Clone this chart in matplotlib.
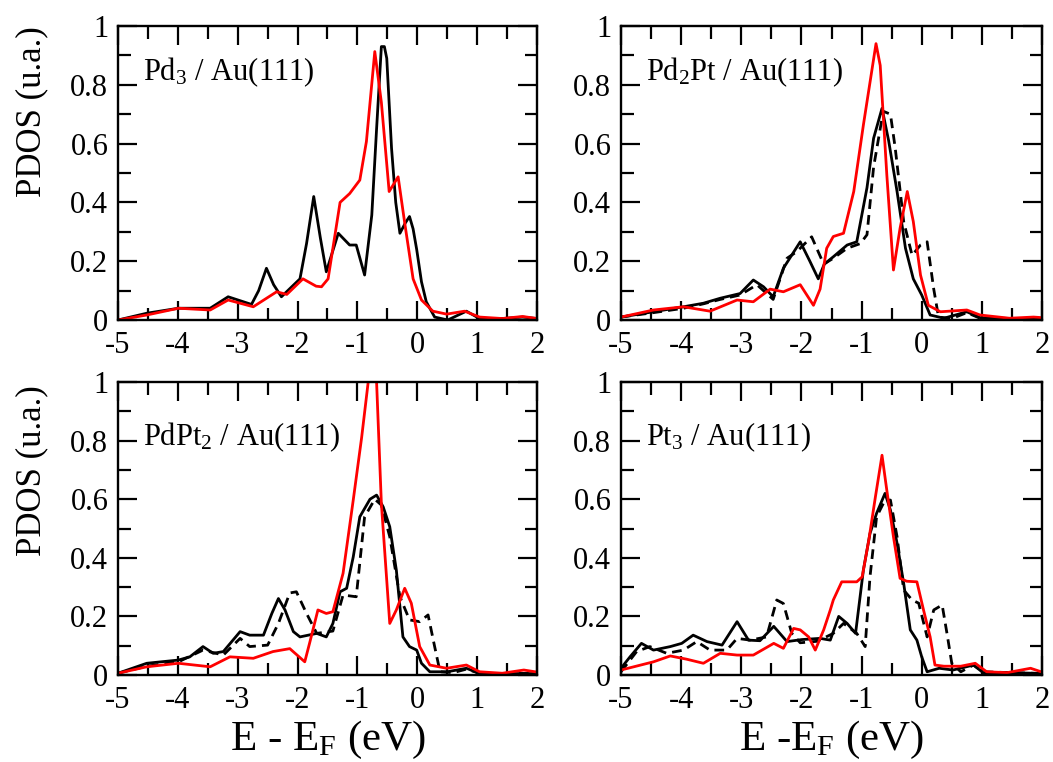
import numpy as np
import matplotlib
matplotlib.use("Agg")
import matplotlib.pyplot as plt
from matplotlib.ticker import MultipleLocator, FuncFormatter

plt.rcParams['font.family'] = ['Liberation Serif', 'DejaVu Serif']
plt.rcParams['mathtext.fontset'] = 'custom'
plt.rcParams['mathtext.rm'] = 'Liberation Serif'
plt.rcParams['mathtext.it'] = 'Liberation Serif:italic'
plt.rcParams['mathtext.default'] = 'regular'
plt.rcParams['axes.unicode_minus'] = False

# ---- Pd3 / Au(111) ----
pd3_black_x = [-5.0, -4.52, -3.99, -3.46, -3.16, -2.77, -2.65, -2.52, -2.40, -2.27, -1.96, -1.85,
               -1.73, -1.62, -1.52, -1.32, -1.13, -1.02, -0.88, -0.76, -0.68, -0.60, -0.55, -0.51,
               -0.43, -0.36, -0.29, -0.20, -0.13, -0.07, -0.01, 0.07, 0.15, 0.29, 0.51, 0.82, 1.04,
               1.42, 1.76, 2.0]
pd3_black_y = [0.0, 0.023, 0.04, 0.04, 0.079, 0.053, 0.10, 0.176, 0.12, 0.079, 0.14, 0.26,
               0.42, 0.28, 0.164, 0.295, 0.255, 0.255, 0.153, 0.357, 0.65, 0.93, 0.93, 0.89,
               0.584, 0.40, 0.295, 0.33, 0.352, 0.31, 0.24, 0.13, 0.062, 0.01, 0.0, 0.03, 0.005,
               0.005, 0.01, 0.005]
pd3_red_x = [-5.0, -4.52, -3.99, -3.46, -3.16, -2.74, -2.35, -2.18, -1.91, -1.69, -1.60, -1.49,
             -1.29, -1.13, -0.96, -0.85, -0.71, -0.60, -0.47, -0.32, -0.21, -0.07, 0.07, 0.26,
             0.49, 0.79, 1.04, 1.42, 1.76, 2.0]
pd3_red_y = [0.0, 0.017, 0.04, 0.034, 0.068, 0.045, 0.096, 0.087, 0.14, 0.115, 0.113, 0.14,
             0.40, 0.43, 0.476, 0.607, 0.913, 0.74, 0.437, 0.487, 0.33, 0.14, 0.068, 0.03,
             0.02, 0.03, 0.01, 0.005, 0.012, 0.005]

# ---- Pd2Pt / Au(111) ----
pd2pt_black_x = [-5.0, -4.46, -3.96, -3.63, -3.35, -3.02, -2.80, -2.63, -2.47, -2.30, -2.02, -1.86,
                 -1.72, -1.62, -1.47, -1.24, -1.08, -0.91, -0.80, -0.66, -0.55, -0.41, -0.27, -0.14,
                 0.0, 0.14, 0.37, 0.75, 0.97, 1.5, 2.0]
pd2pt_black_y = [0.01, 0.028, 0.045, 0.057, 0.074, 0.09, 0.136, 0.113, 0.079, 0.176, 0.266, 0.2,
                 0.14, 0.19, 0.215, 0.255, 0.266, 0.45, 0.618, 0.72, 0.61, 0.437, 0.244, 0.14,
                 0.085, 0.017, 0.006, 0.028, 0.008, 0.005, 0.005]
pd2pt_dash_x = [-5.0, -4.46, -3.96, -3.63, -3.35, -3.02, -2.74, -2.47, -2.24, -2.08, -1.83, -1.63,
                -1.47, -1.24, -1.02, -0.91, -0.80, -0.64, -0.52, -0.44, -0.30, -0.16, -0.02, 0.09,
                0.20, 0.28, 0.5, 0.75, 0.97, 1.5, 2.0]
pd2pt_dash_y = [0.01, 0.025, 0.04, 0.055, 0.07, 0.085, 0.12, 0.07, 0.21, 0.232, 0.283, 0.19,
                0.21, 0.244, 0.26, 0.29, 0.52, 0.71, 0.70, 0.584, 0.335, 0.22, 0.255, 0.266,
                0.105, 0.01, 0.005, 0.025, 0.006, 0.005, 0.005]
pd2pt_red_x = [-5.0, -4.46, -3.96, -3.52, -3.07, -2.80, -2.52, -2.30, -2.02, -1.80, -1.69, -1.58,
               -1.47, -1.30, -1.13, -0.97, -0.76, -0.69, -0.58, -0.47, -0.36, -0.24, -0.14, -0.02,
               0.11, 0.31, 0.75, 0.97, 1.46, 1.86, 2.0]
pd2pt_red_y = [0.01, 0.034, 0.045, 0.03, 0.068, 0.062, 0.105, 0.096, 0.12, 0.05, 0.105, 0.244,
               0.284, 0.295, 0.437, 0.663, 0.94, 0.866, 0.493, 0.17, 0.312, 0.437, 0.335, 0.153,
               0.05, 0.028, 0.034, 0.017, 0.006, 0.01, 0.008]

# ---- PdPt2 / Au(111) ----
pdpt2_black_x = [-5.0, -4.52, -3.99, -3.80, -3.58, -3.41, -3.24, -2.96, -2.80, -2.57,
                 -2.43, -2.32, -2.21, -2.07, -1.96, -1.68, -1.52, -1.41, -1.29, -1.18,
                 -1.07, -0.96, -0.79, -0.68, -0.57, -0.46, -0.35, -0.24, -0.13, -0.01,
                 0.07, 0.21, 0.5, 0.82, 1.04, 1.5, 2.0]
pdpt2_black_y = [0.006, 0.04, 0.051, 0.062, 0.097, 0.074, 0.08, 0.148, 0.136, 0.136,
                 0.21, 0.261, 0.222, 0.148, 0.13, 0.142, 0.13, 0.176, 0.284, 0.296,
                 0.403, 0.54, 0.6, 0.614, 0.574, 0.506, 0.358, 0.13, 0.097, 0.085,
                 0.04, 0.011, 0.011, 0.023, 0.005, 0.005, 0.005]
pdpt2_dash_x = [-5.0, -4.52, -3.99, -3.58, -3.24, -2.96, -2.80, -2.50, -2.32, -2.13, -2.02, -1.85,
                -1.68, -1.41, -1.24, -1.02, -0.88, -0.71, -0.60, -0.46, -0.29, -0.13, 0.04, 0.18,
                0.29, 0.38, 0.6, 0.82, 1.04, 1.5, 2.0]
pdpt2_dash_y = [0.006, 0.03, 0.045, 0.085, 0.068, 0.125, 0.097, 0.102, 0.176, 0.28, 0.284, 0.21,
                0.142, 0.15, 0.273, 0.267, 0.54, 0.6, 0.58, 0.472, 0.267, 0.188, 0.182, 0.205,
                0.097, 0.011, 0.008, 0.02, 0.006, 0.005, 0.005]
pdpt2_red_x = [-5.0, -4.52, -3.99, -3.46, -3.13, -2.74, -2.41, -2.13, -1.88, -1.80, -1.66, -1.52,
               -1.41, -1.24, -1.07, -0.93, -0.82, -0.75, -0.68, -0.60, -0.46, -0.35, -0.21, -0.10,
               0.04, 0.21, 0.49, 0.82, 1.04, 1.42, 1.78, 2.0]
pdpt2_red_y = [0.006, 0.028, 0.04, 0.028, 0.062, 0.057, 0.08, 0.09, 0.045, 0.108, 0.222, 0.21,
               0.216, 0.347, 0.597, 0.81, 1.0, 1.08, 1.0, 0.585, 0.176, 0.222, 0.296, 0.245,
               0.097, 0.034, 0.023, 0.034, 0.011, 0.006, 0.017, 0.01]

# ---- Pt3 / Au(111) ----
pt3_black_x = [-5.0, -4.85, -4.66, -4.46, -4.18, -3.99, -3.80, -3.57, -3.32, -3.07,
               -2.88, -2.69, -2.46, -2.24, -1.99, -1.69, -1.52, -1.38, -1.24, -1.10,
               -0.97, -0.86, -0.75, -0.61, -0.52, -0.41, -0.30, -0.19, -0.08, 0.0,
               0.09, 0.29, 0.52, 0.86, 1.02, 1.42, 1.86, 2.0]
pt3_black_y = [0.023, 0.062, 0.108, 0.085, 0.097, 0.108, 0.136, 0.114, 0.102, 0.182,
               0.119, 0.117, 0.166, 0.114, 0.121, 0.125, 0.119, 0.2, 0.176, 0.142,
               0.358, 0.483, 0.552, 0.62, 0.563, 0.45, 0.313, 0.154, 0.119, 0.062,
               0.011, 0.023, 0.017, 0.034, 0.008, 0.008, 0.006, 0.005]
pt3_dash_x = [-5.0, -4.74, -4.52, -4.24, -3.96, -3.74, -3.52, -3.24, -3.07, -2.85,
              -2.58, -2.41, -2.30, -2.16, -2.02, -1.74, -1.47, -1.30, -1.08, -0.94,
              -0.86, -0.75, -0.61, -0.52, -0.41, -0.30, -0.16, -0.05, 0.09, 0.20,
              0.34, 0.42, 0.50, 0.65, 0.86, 1.02, 1.5, 2.0]
pt3_dash_y = [0.011, 0.08, 0.097, 0.074, 0.085, 0.114, 0.085, 0.085, 0.125, 0.119,
              0.13, 0.256, 0.244, 0.142, 0.11, 0.115, 0.142, 0.176, 0.142, 0.097,
              0.335, 0.54, 0.597, 0.597, 0.472, 0.29, 0.256, 0.245, 0.13, 0.222,
              0.239, 0.142, 0.04, 0.011, 0.034, 0.011, 0.008, 0.005]
pt3_red_x = [-5.0, -4.46, -4.18, -3.91, -3.63, -3.35, -3.07, -2.80, -2.46, -2.30,
             -2.13, -2.02, -1.88, -1.77, -1.63, -1.52, -1.47, -1.33, -1.08, -0.99,
             -0.88, -0.77, -0.66, -0.58, -0.47, -0.36, -0.25, -0.08, 0.03, 0.14,
             0.22, 0.37, 0.65, 0.89, 1.08, 1.42, 1.81, 2.0]
pt3_red_y = [0.017, 0.045, 0.065, 0.054, 0.04, 0.074, 0.068, 0.068, 0.108, 0.091,
             0.159, 0.154, 0.13, 0.085, 0.154, 0.222, 0.256, 0.318, 0.318, 0.335,
             0.46, 0.608, 0.75, 0.63, 0.472, 0.33, 0.32, 0.318, 0.222, 0.13,
             0.034, 0.03, 0.03, 0.04, 0.011, 0.008, 0.023, 0.01]

labels = [r'Pd$_3$ / Au(111)', r'Pd$_2$Pt / Au(111)', r'PdPt$_2$ / Au(111)', r'Pt$_3$ / Au(111)']

panels = [
    (pd3_black_x, pd3_black_y, None, None, pd3_red_x, pd3_red_y),
    (pd2pt_black_x, pd2pt_black_y, pd2pt_dash_x, pd2pt_dash_y, pd2pt_red_x, pd2pt_red_y),
    (pdpt2_black_x, pdpt2_black_y, pdpt2_dash_x, pdpt2_dash_y, pdpt2_red_x, pdpt2_red_y),
    (pt3_black_x, pt3_black_y, pt3_dash_x, pt3_dash_y, pt3_red_x, pt3_red_y),
]

W, H = 1053, 762
fig = plt.figure(figsize=(W / 100, H / 100), dpi=100)

# axes boxes in pixels: left, right, top, bottom
boxes = [(118, 537, 26, 320), (621, 1042, 26, 320),
         (118, 537, 382, 675), (621, 1042, 382, 675)]
label_y = [0.816, 0.816, 0.784, 0.784]

for k, (l, r, t, b) in enumerate(boxes):
    ax = fig.add_axes([l / W, (H - b) / H, (r - l) / W, (b - t) / H])
    bx, by, dx, dy, rx, ry = panels[k]
    if dx is not None:
        ax.plot(dx, dy, color='black', lw=2.0, ls=(0, (3.5, 2.2)))
    ax.plot(bx, by, color='black', lw=2.0, solid_joinstyle='round')
    ax.plot(rx, ry, color='#ff0000', lw=2.0, solid_joinstyle='round')

    ax.set_xlim(-5, 2)
    ax.set_ylim(0, 1)
    ax.xaxis.set_major_locator(MultipleLocator(1))
    ax.xaxis.set_minor_locator(MultipleLocator(0.5))
    ax.yaxis.set_major_locator(MultipleLocator(0.2))
    ax.yaxis.set_minor_locator(MultipleLocator(0.1))
    ax.yaxis.set_major_formatter(FuncFormatter(lambda v, p: '%g' % round(v, 2)))
    ax.xaxis.set_major_formatter(FuncFormatter(lambda v, p: '%g' % round(v, 2)))
    ax.tick_params(which='both', direction='in', top=True, right=True, width=1.6,
                   labelsize=22)
    ax.tick_params(axis='x', which='major', pad=8)
    ax.tick_params(axis='y', which='major', pad=7)
    ax.tick_params(which='major', length=14)
    ax.tick_params(which='minor', length=9)
    for s in ax.spines.values():
        s.set_linewidth(1.7)
    ax.text(-4.58, label_y[k], labels[k], fontsize=22, ha='left', va='baseline')

fig.text(0.030, 0.853, 'PDOS (u.a.)', rotation=90, fontsize=25, ha='center', va='center')
fig.text(0.030, 0.383, 'PDOS (u.a.)', rotation=90, fontsize=25, ha='center', va='center')
fig.text(0.311, 0.016, r'E - E$_F$ (eV)', fontsize=31, ha='center', va='baseline')
fig.text(0.790, 0.016, r'E -E$_F$ (eV)', fontsize=31, ha='center', va='baseline')

fig.savefig('out.png', dpi=100)
